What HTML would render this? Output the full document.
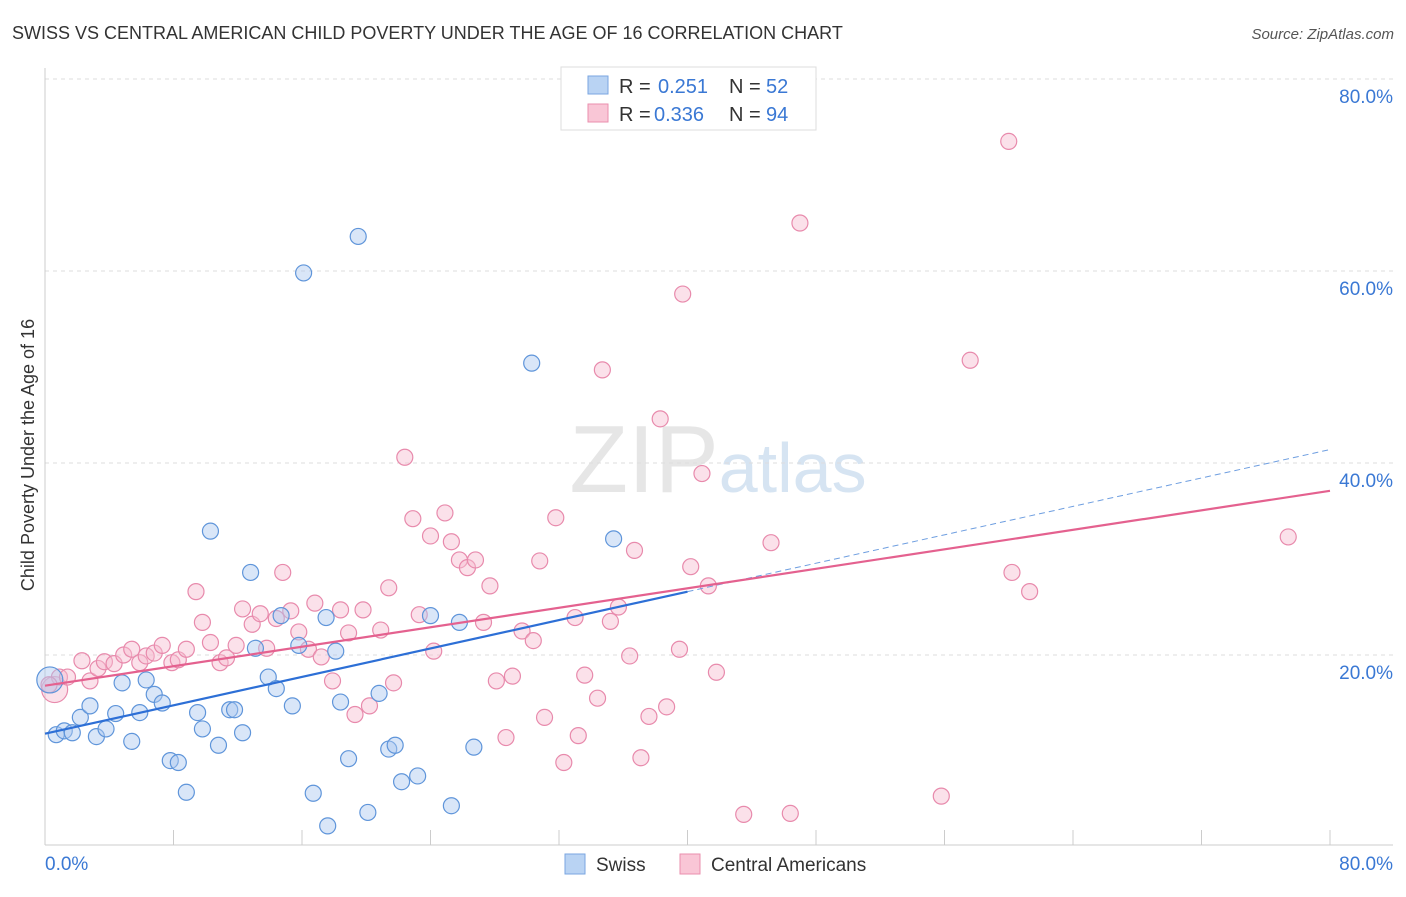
<!DOCTYPE html>
<html><head><meta charset="utf-8"><style>
body{margin:0;background:#fff;font-family:"Liberation Sans",sans-serif;}
svg text{font-family:"Liberation Sans",sans-serif;}
</style></head><body>
<svg id="chart" width="1406" height="892" xmlns="http://www.w3.org/2000/svg">
<text x="12" y="39" font-size="18" fill="#333">SWISS VS CENTRAL AMERICAN CHILD POVERTY UNDER THE AGE OF 16 CORRELATION CHART</text>
<text x="1394" y="39" font-size="15" fill="#555" text-anchor="end" font-style="italic">Source: ZipAtlas.com</text>
<text x="718" y="492" font-size="96" fill="#e6e6e6" text-anchor="middle" font-family="Liberation Serif">ZIP<tspan fill="#d6e4f2" font-family="Liberation Sans" font-size="70">atlas</tspan></text>
<g id="grid"></g>
<g id="axes"></g>
<text transform="translate(34,455) rotate(-90)" font-size="18" fill="#333" text-anchor="middle">Child Poverty Under the Age of 16</text>
<g id="marks"></g>
<g id="lines"></g>
<g>
<rect x="561" y="67" width="255" height="63" fill="#fff" stroke="#ddd"/>
<rect x="588" y="76" width="20" height="18" fill="#b9d3f3" stroke="#7aa6e0"/>
<rect x="588" y="104" width="20" height="18" fill="#f9c6d6" stroke="#ea8fae"/>
<text x="619" y="93" font-size="20" fill="#333">R =</text>
<text x="658" y="93" font-size="20" fill="#3a78d4">0.251</text>
<text x="729" y="93" font-size="20" fill="#333">N =</text>
<text x="766" y="93" font-size="20" fill="#3a78d4">52</text>
<text x="619" y="121" font-size="20" fill="#333">R =</text>
<text x="654" y="121" font-size="20" fill="#3a78d4">0.336</text>
<text x="729" y="121" font-size="20" fill="#333">N =</text>
<text x="766" y="121" font-size="20" fill="#3a78d4">94</text>
</g>
<g>
<rect x="565" y="854" width="20" height="20" fill="#b9d3f3" stroke="#7aa6e0"/>
<text x="596" y="871" font-size="19" fill="#333">Swiss</text>
<rect x="680" y="854" width="20" height="20" fill="#f9c6d6" stroke="#ea8fae"/>
<text x="711" y="871" font-size="19" fill="#333">Central Americans</text>
</g>
</svg>
<script>
const yTicks=[20,40,60,80];
const xTickLabels=["0.0%","80.0%"];
const swissX=[0.3,0.7,1.2,1.7,2.2,2.8,3.2,3.8,4.4,4.8,5.4,5.9,6.3,6.8,7.3,7.8,8.3,8.8,9.5,9.8,10.3,10.8,11.5,11.8,12.3,12.8,13.1,13.9,14.4,14.7,15.4,15.8,16.1,16.7,17.5,17.6,18.1,18.4,18.9,19.5,20.1,20.8,21.4,21.8,22.2,23.2,24.0,25.3,25.8,26.7,30.3,35.4];
const swissY=[17.4,11.7,12.1,11.9,13.5,14.7,11.5,12.3,13.9,17.1,11.0,14.0,17.4,15.9,15.0,9.0,8.8,5.7,14.0,12.3,32.9,10.6,14.3,14.3,11.9,28.6,20.7,17.7,16.5,24.1,14.7,21.0,59.8,5.6,23.9,2.2,20.4,15.1,9.2,63.6,3.6,16.0,10.2,10.6,6.8,7.4,24.1,4.3,23.4,10.4,50.4,32.1];
const caX=[0.6,0.9,1.4,2.3,2.8,3.3,3.7,4.3,4.9,5.4,5.9,6.3,6.8,7.3,7.9,8.3,8.8,9.4,9.8,10.3,10.9,11.3,11.9,12.3,12.9,13.4,13.8,14.4,14.8,15.3,15.8,16.4,16.8,17.2,17.9,18.4,18.9,19.3,19.8,20.2,20.9,21.4,21.7,22.4,22.9,23.3,24.0,24.2,24.9,25.3,25.8,26.3,26.8,27.3,27.7,28.1,28.7,29.1,29.7,30.4,30.8,31.1,31.8,32.3,33.0,33.2,33.6,34.4,34.7,35.2,35.7,36.4,36.7,37.1,37.6,38.3,38.7,39.5,39.7,40.2,40.9,41.3,41.8,43.5,45.2,46.4,47.0,55.8,57.6,60.0,60.2,61.3,77.4,0.25];
const caY=[16.4,17.7,17.7,19.4,17.3,18.6,19.3,19.1,20.0,20.6,19.2,19.9,20.2,21.0,19.2,19.5,20.6,26.6,23.4,21.3,19.2,19.7,21.0,24.8,23.2,24.3,20.7,23.8,28.6,24.6,22.4,20.6,25.4,19.8,17.3,24.7,22.3,13.8,24.7,14.7,22.6,27.0,17.1,40.6,34.2,24.2,32.4,20.4,34.8,31.8,29.9,29.1,29.9,23.4,27.2,17.3,11.4,17.8,22.5,21.5,29.8,13.5,34.3,8.8,23.9,11.6,17.9,15.5,49.7,23.5,25.0,19.9,30.9,9.3,13.6,44.6,14.6,20.6,57.6,29.2,38.9,27.2,18.2,3.4,31.7,3.5,65.0,5.3,50.7,73.5,28.6,26.6,32.3,16.9];
const swissLine=[[0,11.8],[40,26.6],[80,41.4]];
const caLine=[[0,16.8],[80,37.1]];
const NS="http://www.w3.org/2000/svg";
const X0=45,X1=1330,Y0=847,PPY=9.6;
function sx(v){return X0+(X1-X0)*v/80;}
function sy(v){return Y0-v*PPY;}
function mk(tag,attrs,parent){const e=document.createElementNS(NS,tag);for(const k in attrs)e.setAttribute(k,attrs[k]);parent.appendChild(e);return e;}
const grid=document.getElementById('grid'),axes=document.getElementById('axes'),marks=document.getElementById('marks'),lines=document.getElementById('lines');
yTicks.forEach(t=>{
 const l=mk('line',{x1:45,x2:1393,y1:sy(t),y2:sy(t),stroke:'#ddd','stroke-dasharray':'4,4'},grid);
 
 
 const tx=mk('text',{x:1393,y:sy(t)+24,'font-size':19,fill:'#3a78d4','text-anchor':'end'},grid);
 tx.textContent=t.toFixed(1)+'%';
 
 
});
const ya=mk('line',{x1:45,x2:45,y1:68,y2:845,stroke:'#ccc'},axes);


const xa=mk('line',{x1:45,x2:1393,y1:845,y2:845,stroke:'#ccc'},axes);


for(let i=0;i<=10;i++){
 const t=mk('line',{x1:sx(i*8),x2:sx(i*8),y1:830,y2:845,stroke:'#ccc'},axes);
 
 
}
[[0,'start',45],[1,'end',1393]].forEach(([i,a,x])=>{
 const t=mk('text',{x:x,y:870,'font-size':19,fill:'#3a78d4','text-anchor':a},axes);
 t.textContent=xTickLabels[i];
 
 
});
function pts(xs,ys,fill,stroke,name){
 xs.forEach((x,i)=>{
  const r=i===0?13:8;
  const c=mk('circle',{cx:sx(x),cy:sy(ys[i]),r:r,fill:fill,'fill-opacity':0.45,stroke:stroke,'stroke-width':1.2},marks);
  
  
 });
}
pts(caX,caY,'#f7bcd0','#e88aac','central-american-point');
pts(swissX,swissY,'#aac8f0','#5f95da','swiss-point');
const b1=mk('line',{x1:sx(swissLine[0][0]),y1:sy(swissLine[0][1]),x2:sx(swissLine[1][0]),y2:sy(swissLine[1][1]),stroke:'#2d6fd6','stroke-width':2.2},lines);


const b2=mk('line',{x1:sx(swissLine[1][0]),y1:sy(swissLine[1][1]),x2:sx(swissLine[2][0]),y2:sy(swissLine[2][1]),stroke:'#6e9ee0','stroke-width':1,'stroke-dasharray':'6,4'},lines);


const p1=mk('line',{x1:sx(caLine[0][0]),y1:sy(caLine[0][1]),x2:sx(caLine[1][0]),y2:sy(caLine[1][1]),stroke:'#e4618f','stroke-width':2.2},lines);


</script>
</body></html>
